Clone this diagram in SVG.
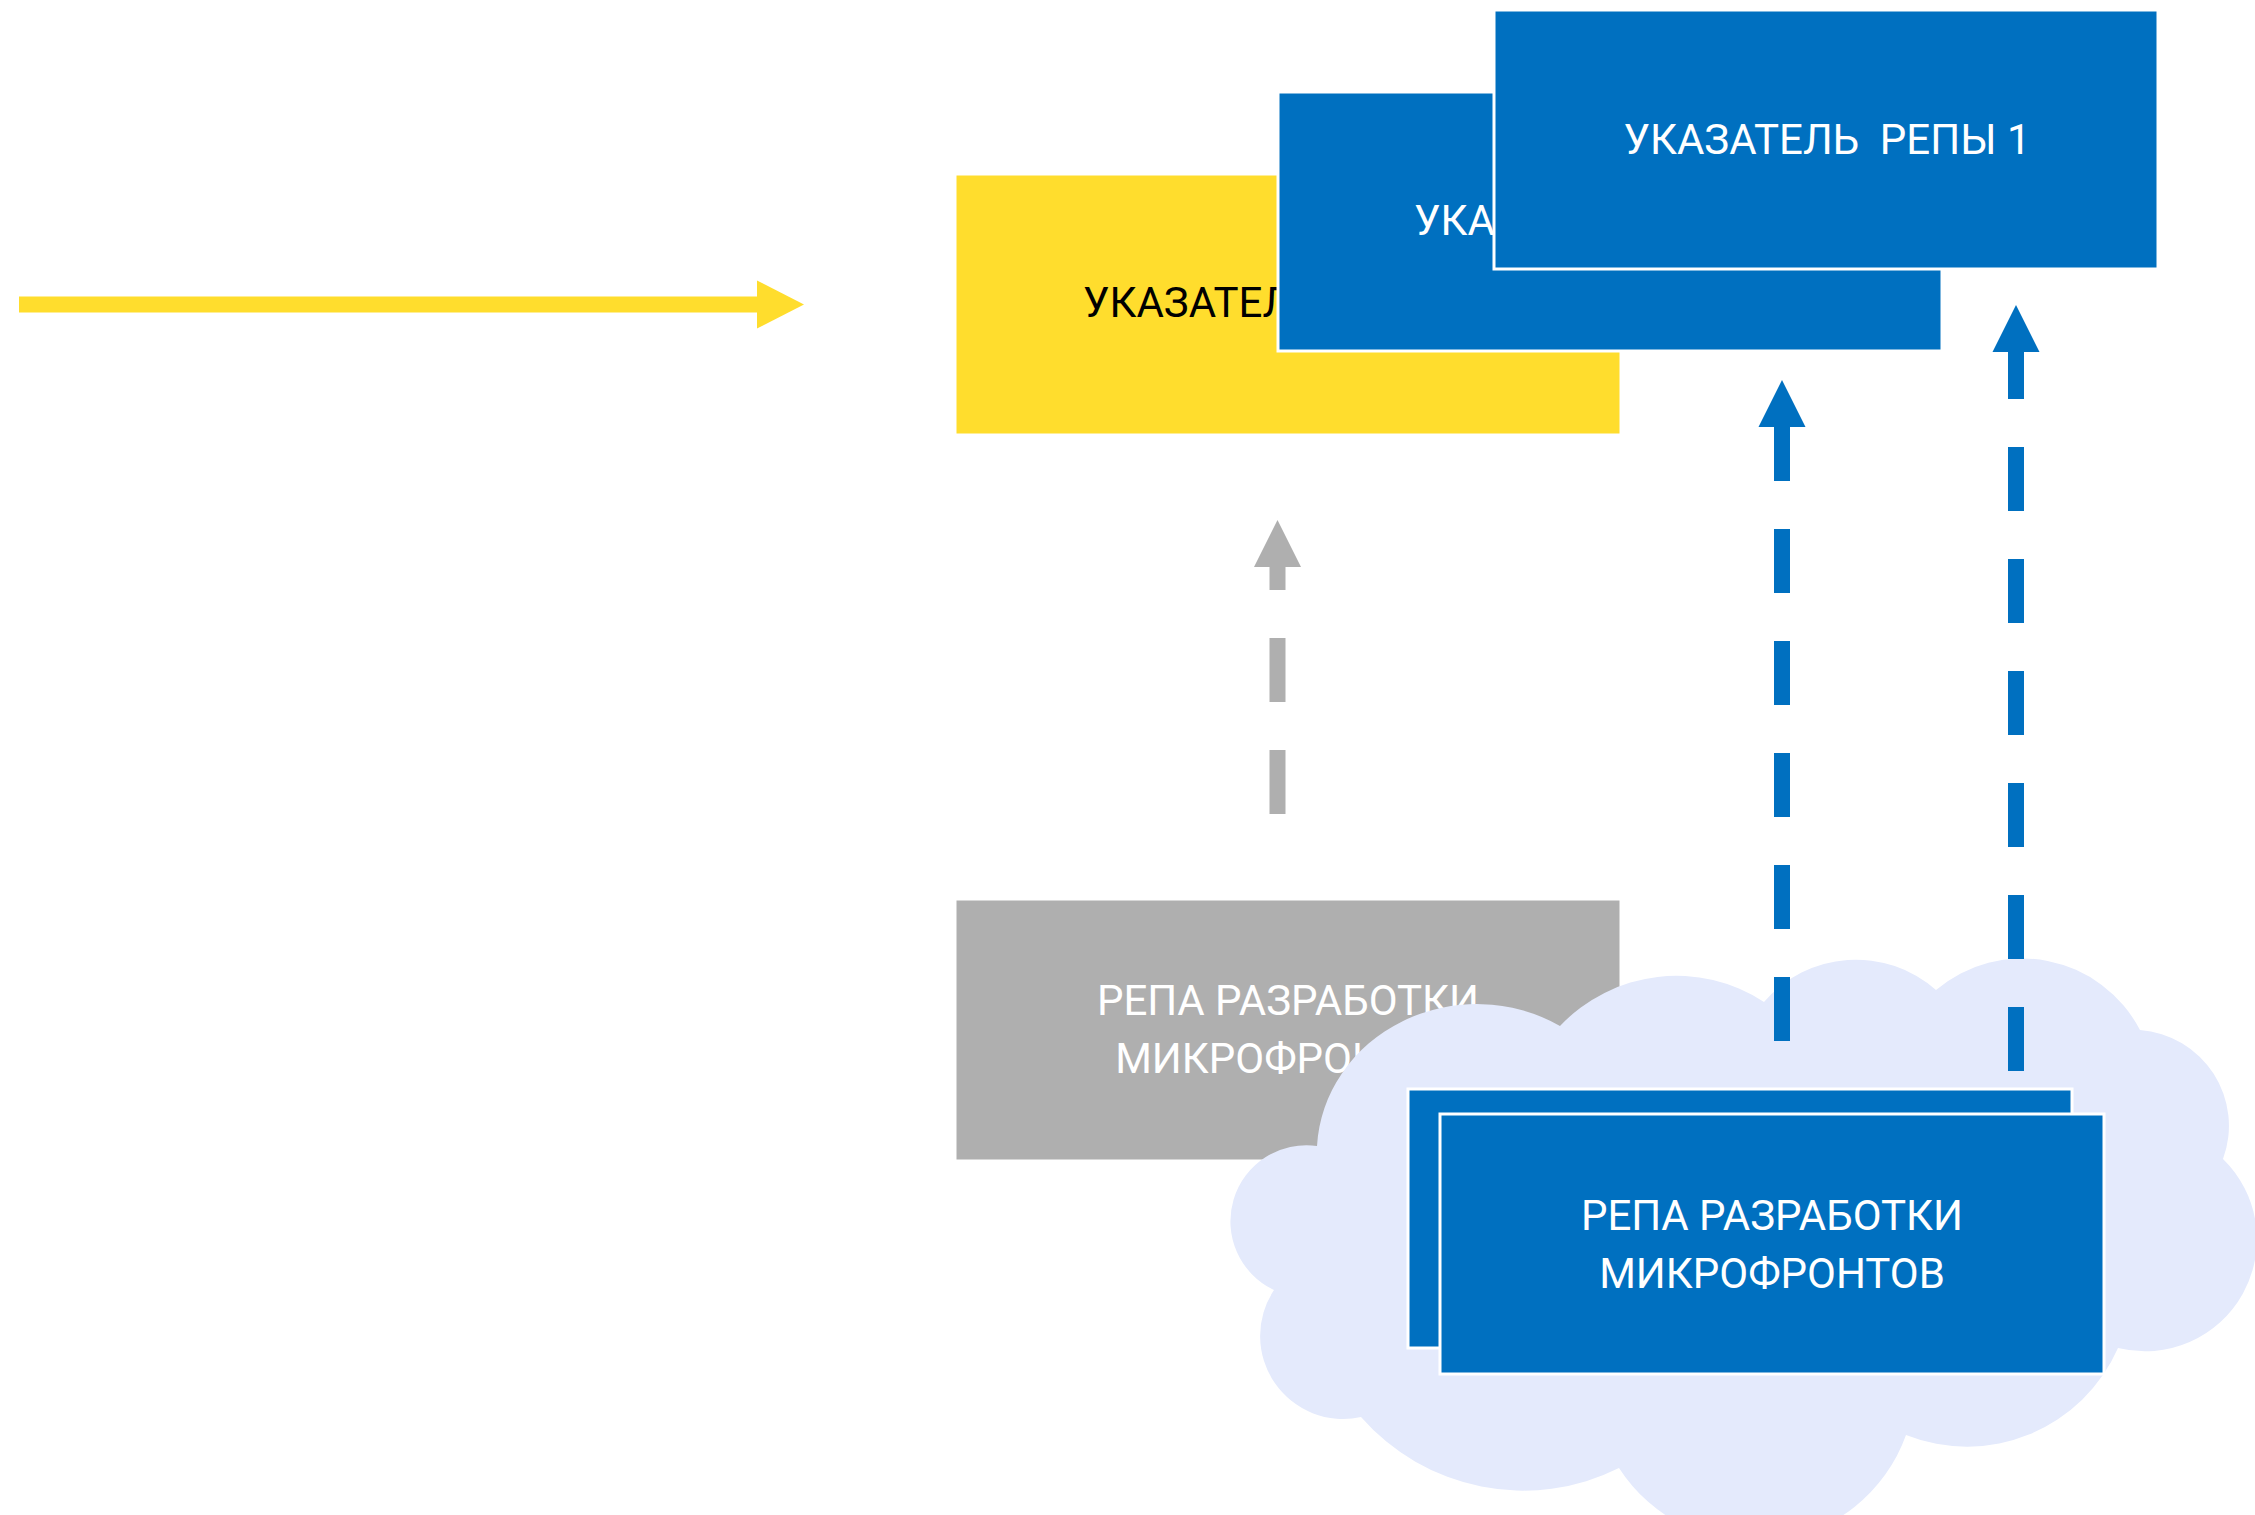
<svg xmlns="http://www.w3.org/2000/svg" width="2255" height="1515" viewBox="0 0 2255 1515">
  <style>
    .box { stroke: #FFFFFF; stroke-width: 3; }
    .yellow { fill: #FFDD2D; }
    .blue { fill: #0070C0; }
    .gray { fill: #AFAFAF; }
    .cloud { fill: #E4EAFC; }
    .lbl { font-family: Roboto, "Liberation Sans", sans-serif; font-size: 42px; white-space: pre; }
    .w { fill: #FFFFFF; }
    .k { fill: #000000; }
    .conn { fill: none; stroke-width: 16; }
  </style>
  <defs>
    <marker id="hY" markerUnits="userSpaceOnUse" markerWidth="48" markerHeight="50" refX="0" refY="25" orient="auto" viewBox="0 0 48 50">
      <path d="M0,1 L47,25 L0,49 Z" fill="#FFDD2D"/>
    </marker>
    <marker id="hG" markerUnits="userSpaceOnUse" markerWidth="48" markerHeight="50" refX="0" refY="25" orient="auto" viewBox="0 0 48 50">
      <path d="M0,1.5 L47,25 L0,48.5 Z" fill="#AFAFAF"/>
    </marker>
    <marker id="hB" markerUnits="userSpaceOnUse" markerWidth="48" markerHeight="50" refX="0" refY="25" orient="auto" viewBox="0 0 48 50">
      <path d="M0,1.5 L47,25 L0,48.5 Z" fill="#0070C0"/>
    </marker>
  </defs>

  <g id="node-pointer-yellow">
    <rect class="box yellow" x="955" y="174" width="666" height="261"/>
    <text class="lbl k" x="1083" y="317">УКАЗАТЕЛЬ</text>
  </g>
  <g id="node-pointer-2">
    <rect class="box blue" x="1278" y="92" width="664" height="259"/>
    <text class="lbl w" x="1414" y="235">УКА</text>
  </g>
  <g id="node-pointer-1">
    <rect class="box blue" x="1494" y="10" width="664" height="259"/>
    <text class="lbl w" x="1827" y="154" text-anchor="middle">УКАЗАТЕЛЬ  РЕПЫ 1</text>
  </g>
  <g id="node-repo-gray">
    <rect class="box gray" x="955" y="899" width="666" height="262"/>
    <text class="lbl w" x="1288" y="1015" text-anchor="middle">РЕПА РАЗРАБОТКИ</text>
    <text class="lbl w" x="1288" y="1073" text-anchor="middle">МИКРОФРОНТОВ</text>
  </g>
  <g id="node-cloud">
    <path class="cloud" d="M 1317 1146 A 160 150 0 0 1 1560 1026 A 160 160 0 0 1 1764 1002 A 121 121 0 0 1 1936 990 A 133 133 0 0 1 2140 1030 A 96 96 0 0 1 2223 1159 A 112 112 0 0 1 2118 1348 A 165 165 0 0 1 1906 1435 A 161 161 0 0 1 1619 1468 A 215 215 0 0 1 1361 1417 A 83 83 0 0 1 1274 1290 A 76 76 0 0 1 1317 1146 Z"/>
  </g>
  <g id="node-repo-back">
    <rect class="box blue" x="1408" y="1089" width="664" height="259"/>
  </g>
  <g id="node-repo-front">
    <rect class="box blue" x="1440" y="1114" width="664" height="260"/>
    <text class="lbl w" x="1772" y="1230" text-anchor="middle">РЕПА РАЗРАБОТКИ</text>
    <text class="lbl w" x="1772" y="1288" text-anchor="middle">МИКРОФРОНТОВ</text>
  </g>

  <g id="connectors">
    <path class="conn" stroke="#FFDD2D" d="M19,304.5 L757,304.5" marker-end="url(#hY)"/>
    <path class="conn" stroke="#AFAFAF" stroke-dasharray="64 48" d="M1277.5,814 L1277.5,567" marker-end="url(#hG)"/>
    <path class="conn" stroke="#0070C0" stroke-dasharray="64 48" d="M1782,1041 L1782,427" marker-end="url(#hB)"/>
    <path class="conn" stroke="#0070C0" stroke-dasharray="64 48" d="M2016,1071 L2016,352" marker-end="url(#hB)"/>
  </g>
</svg>
